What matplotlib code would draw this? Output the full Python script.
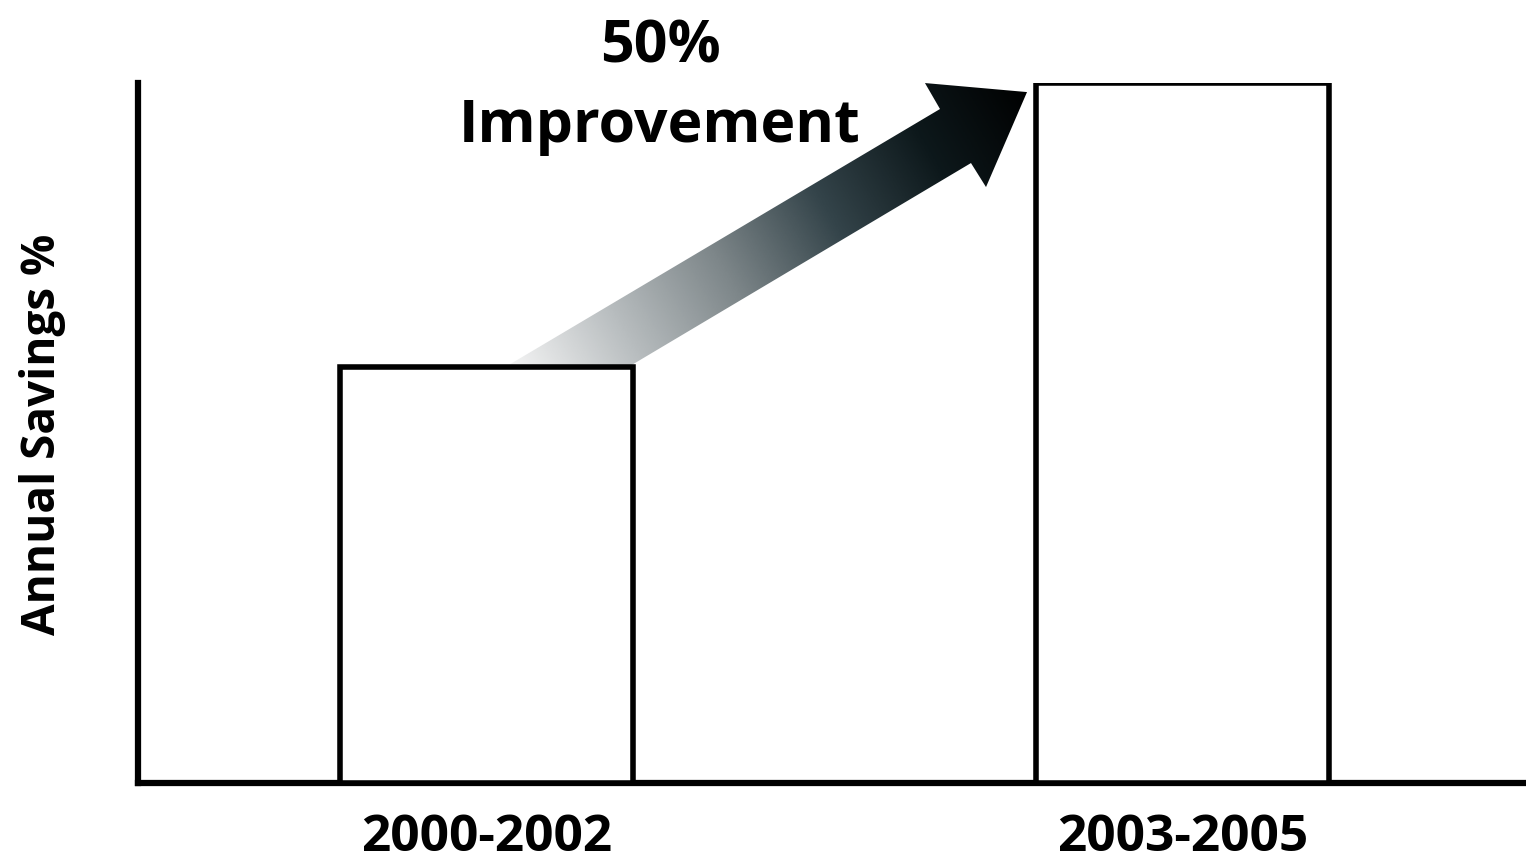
import matplotlib
matplotlib.use("Agg")
import matplotlib.pyplot as plt
import numpy as np
from matplotlib.colors import LinearSegmentedColormap
from matplotlib.patches import Polygon

periods = ["2000-2002", "2003-2005"]
savings = [59.4, 100.0]
note_pct = "50%"
note_text = "Improvement"

plt.rcParams["font.family"] = ["Open Sans", "DejaVu Sans"]
plt.rcParams["font.weight"] = "bold"

fig = plt.figure(figsize=(15.26, 8.62), dpi=100)
ax = fig.add_axes([0.0904, 0.0905, 0.9096, 0.812])

x = np.arange(len(periods))
ax.bar(x, savings, width=0.421, facecolor="white", edgecolor="black",
       linewidth=4, zorder=3)

ax.set_xlim(-0.5007, 1.4935)
ax.set_ylim(0, 100)
for s in ["top", "right"]:
    ax.spines[s].set_visible(False)
for s in ["left", "bottom"]:
    ax.spines[s].set_linewidth(4.5)

ax.set_xticks(x, periods)
ax.set_yticks([])
ax.tick_params(axis="x", length=0, pad=21, labelsize=37)
ax.set_ylabel("Annual Savings %", fontsize=33, fontweight="bold", labelpad=52)

# gradient arrow from first bar top towards second bar
px, py = 696.0, 7.0  # pixels per data unit (x, y)
verts = np.array([
    (0.0266, savings[0]),
    (0.6516, 96.29),
    (0.6300, 100.0),
    (0.7766, 98.71),
    (0.7177, 85.14),
    (0.6961, 88.57),
    (0.2033, savings[0]),
])
poly = Polygon(verts, closed=True, facecolor="none", edgecolor="none")
ax.add_patch(poly)

x0, x1 = verts[:, 0].min(), verts[:, 0].max()
y0, y1 = verts[:, 1].min(), verts[:, 1].max()
gx, gy = np.meshgrid(np.linspace(x0, x1, 400), np.linspace(y0, y1, 300))
d = np.array([1.0, 0.593])
d /= np.linalg.norm(d)
proj = (gx - x0) * px * d[0] + (gy - y0) * py * d[1]
proj = (proj - proj.min()) / (proj.max() - proj.min())
cmap = LinearSegmentedColormap.from_list(
    "arr", ["#f6f6f6", "#b8bdbf", "#7d8689", "#34444a", "#0d181b", "#000000"])
im = ax.imshow(proj, extent=(x0, x1, y0, y1), origin="lower", cmap=cmap,
               aspect="auto", zorder=2, interpolation="bilinear")
im.set_clip_path(poly)
ax.set_xlim(-0.5007, 1.4935)
ax.set_ylim(0, 100)

fig.text(0.4325, 0.928, note_pct, ha="center", va="baseline",
         fontsize=42.5, fontweight="bold")
fig.text(0.4325, 0.835, note_text, ha="center", va="baseline",
         fontsize=42.5, fontweight="bold")

fig.savefig("out.png", dpi=100)
